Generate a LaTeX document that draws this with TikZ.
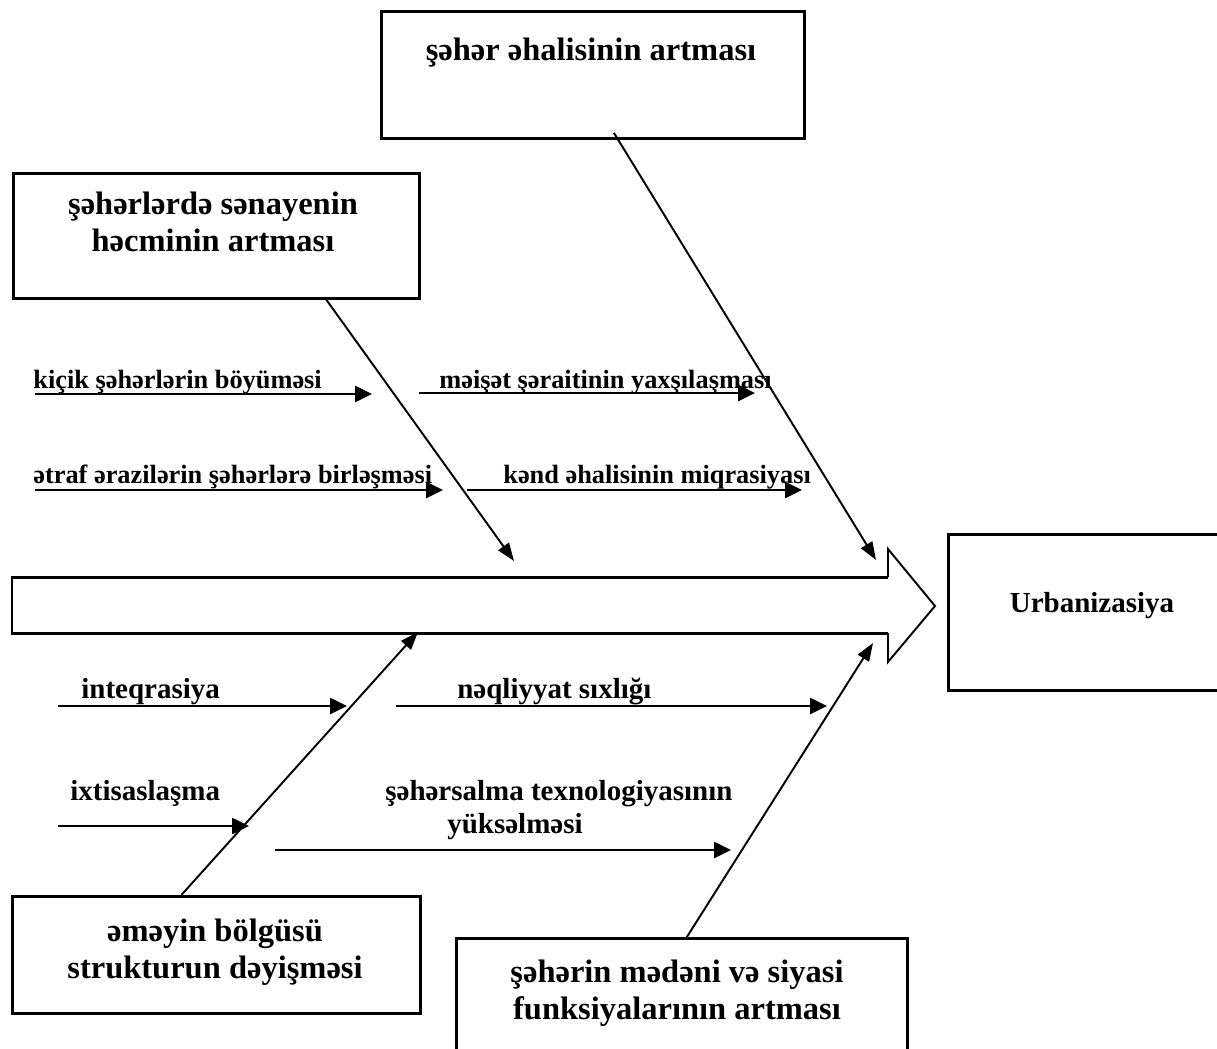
\documentclass[tikz,border=0pt]{standalone}
\usepackage{fontspec}
\setmainfont{Liberation Serif}
\usetikzlibrary{arrows.meta}
\tikzset{
  causebox/.style={draw, line width=1.6pt, anchor=north west, inner sep=0pt},
  boxtext/.style={font=\fontsize{18.5}{21}\selectfont\bfseries, align=center, inner sep=0pt},
  toplabel/.style={font=\fontsize{15}{18}\selectfont\bfseries, anchor=base west, inner sep=0pt},
  botlabel/.style={font=\fontsize{16.5}{20}\selectfont\bfseries, anchor=base west, inner sep=0pt},
  bone/.style={line width=1.1pt, -{Triangle[length=0.36cm, width=0.26cm]}},
  twig/.style={line width=1.5pt, -{Triangle[length=0.34cm, width=0.32cm]}},
}
\begin{document}
\begin{tikzpicture}[x=0.02cm, y=-0.02cm]
\useasboundingbox (0,0) rectangle (1217,1048);
% boxes
\node[causebox, minimum width=8.46cm, minimum height=2.54cm] (ehali) at (380,10) {};
\node[causebox, minimum width=8.12cm, minimum height=2.5cm] (senaye) at (12,172) {};
\node[causebox, minimum width=5.66cm, minimum height=3.12cm] (urban) at (947,533) {};
\node[causebox, minimum width=8.16cm, minimum height=2.34cm] (emek) at (11,895) {};
\node[causebox, minimum width=9.02cm, minimum height=2.46cm] (siyasi) at (455,937) {};
\node[boxtext, anchor=base] (ehalit) at (591,60) {şəhər əhalisinin artması};
\node[boxtext] (senayet) at (213,222) {şəhərlərdə sənayenin\\həcminin artması};
\node[boxtext, anchor=base, font=\fontsize{16.5}{20}\selectfont\bfseries] (urbant) at (1092,612) {Urbanizasiya};
\node[boxtext] (emekt) at (215,952) {əməyin bölgüsü\\strukturun dəyişməsi};
\node[boxtext] (siyasit) at (677,993) {şəhərin mədəni və siyasi\\funksiyalarının artması};
% spine
\draw[line width=1.1pt] (888,577) -- (888,549) -- (935,606) -- (888,662) -- (888,633);
\draw[line width=1.7pt] (888,577) -- (12,577) -- (12,633) -- (888,633);
\coordinate (s1) at (876,560);
\coordinate (s2) at (514,561);
\coordinate (s3) at (418,632);
\coordinate (s4) at (873,643);
% bones
\draw[bone] ([shift={(21,-7)}]ehali.south) -- (s1);
\draw[bone] ([shift={(110,0)}]senaye.south) -- (s2);
\draw[bone] ([shift={(-35,0)}]emek.north) -- (s3);
\draw[bone] ([shift={(5,0)}]siyasi.north) -- (s4);
% labels above the spine
\node[toplabel] (kicik) at (33,388) {kiçik şəhərlərin böyüməsi};
\node[toplabel] (etraf) at (33,483) {ətraf ərazilərin şəhərlərə birləşməsi};
\node[toplabel] (meiset) at (439,388) {məişət şəraitinin yaxşılaşması};
\node[toplabel] (kend) at (503,483) {kənd əhalisinin miqrasiyası};
\draw[twig] ([shift={(2,6)}]kicik.base west) -- +(337,0);
\draw[twig] ([shift={(2,7)}]etraf.base west) -- +(408,0);
\draw[twig] ([shift={(-20,5)}]meiset.base west) -- +(336,0);
\draw[twig] ([shift={(-36,7)}]kend.base west) -- +(335,0);
% labels below the spine
\node[botlabel] (inteq) at (81,698) {inteqrasiya};
\node[botlabel] (neqliy) at (457,698) {nəqliyyat sıxlığı};
\node[botlabel] (ixtis) at (70,800) {ixtisaslaşma};
\node[botlabel] (texno) at (385,800) {şəhərsalma texnologiyasının};
\node[botlabel] (yukse) at (447,833) {yüksəlməsi};
\draw[twig] ([shift={(-23,8)}]inteq.base west) -- +(289,0);
\draw[twig] ([shift={(-61,8)}]neqliy.base west) -- +(431,0);
\draw[twig] ([shift={(-12,26)}]ixtis.base west) -- +(191,0);
\draw[twig] ([shift={(-172,17)}]yukse.base west) -- +(456,0);
\end{tikzpicture}
\end{document}
